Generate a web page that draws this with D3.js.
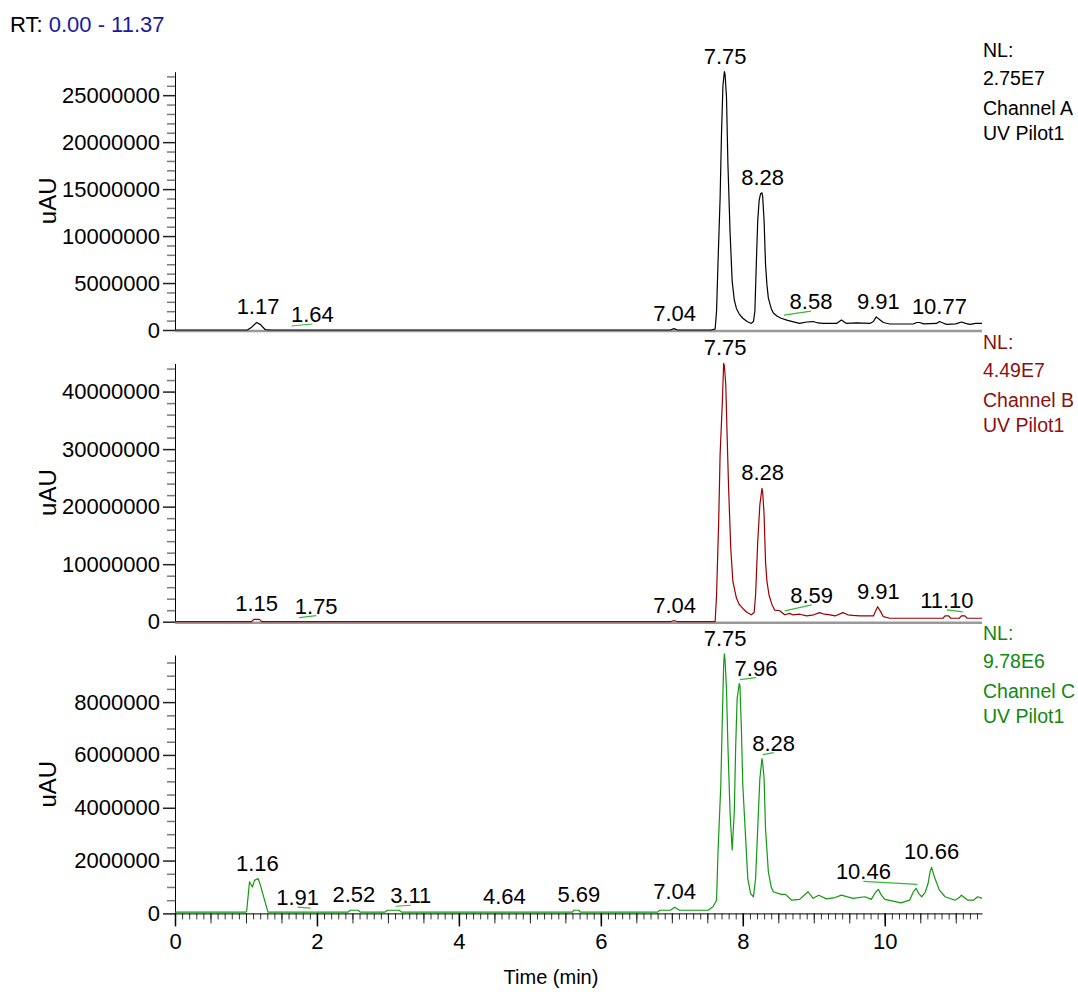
<!DOCTYPE html>
<html>
<head>
<meta charset="utf-8">
<script src="https://cdn.jsdelivr.net/npm/d3@7"></script>
<style>
  body { margin: 0; background: #fff; }
  svg text { font-family: "Liberation Sans", Arial, sans-serif; }
</style>
</head>
<body>
<svg id="chart" width="1078" height="992"></svg>
<script>
// --- Data (intensities in millions of uAU, time in min) ---
const timeRange = [0, 11.37];
const channelNames = ["Channel A", "Channel B", "Channel C"];
const normLevels = [27.5, 44.9, 9.78];
const normLabels = ["2.75E7", "4.49E7", "9.78E6"];

const yMajorA = [0, 5, 10, 15, 20, 25];
const yMajorB = [0, 10, 20, 30, 40];
const yMajorC = [0, 2, 4, 6, 8];
const yMinorStep = [1, 2, 0.5];
const xMajor = [0, 2, 4, 6, 8, 10];

const traceA = [
  [0, 0], [1.02, 0], [1.08, 0.3], [1.15, 0.8], [1.2, 0.6], [1.27, 0.05], [1.35, 0],
  [6.98, 0], [7.03, 0.15], [7.08, 0], [7.55, 0], [7.61, 0.1], [7.63, 2], [7.65, 7],
  [7.68, 14], [7.70, 21], [7.72, 26], [7.74, 27.5], [7.75, 27.2], [7.77, 24.8],
  [7.79, 17.7], [7.82, 10.5], [7.85, 5.2], [7.88, 3.2], [7.91, 2.3], [7.95, 1.7],
  [8.00, 1.25], [8.06, 0.9], [8.12, 0.7], [8.15, 0.9], [8.17, 2], [8.19, 7],
  [8.21, 11.6], [8.23, 13.8], [8.25, 14.5], [8.27, 14.6], [8.28, 14.2], [8.30, 11.6],
  [8.32, 7], [8.34, 4.8], [8.36, 3.4], [8.40, 2.3], [8.43, 1.8], [8.48, 1.5],
  [8.54, 1.25], [8.62, 1.05], [8.70, 0.9], [8.80, 0.7], [8.90, 0.85], [8.99, 0.9],
  [9.06, 0.75], [9.13, 0.7], [9.32, 0.7], [9.39, 1.07], [9.46, 0.7], [9.60, 0.75],
  [9.79, 0.7], [9.84, 0.9], [9.88, 1.4], [9.93, 1.1], [9.98, 0.8], [10.07, 0.64],
  [10.40, 0.64], [10.45, 0.8], [10.49, 0.8], [10.55, 0.65], [10.73, 0.7], [10.77, 0.9],
  [10.82, 0.75], [10.87, 0.6], [11.0, 0.65], [11.08, 0.85], [11.14, 0.7], [11.20, 0.6],
  [11.28, 0.7], [11.37, 0.7]
];

const traceB = [
  [0, 0], [1.08, 0], [1.11, 0.4], [1.19, 0.4], [1.22, 0], [6.98, 0], [7.03, 0.2],
  [7.08, 0], [7.61, 0], [7.63, 4.6], [7.66, 17.4], [7.68, 29], [7.71, 37.7],
  [7.73, 44.9], [7.74, 44.5], [7.76, 41.2], [7.78, 31.9], [7.80, 23.2], [7.83, 12.8],
  [7.86, 7], [7.91, 4.1], [7.95, 3.0], [8.00, 2.3], [8.06, 1.6], [8.12, 1.2],
  [8.16, 1.6], [8.18, 4.6], [8.21, 13.9], [8.24, 20.3], [8.27, 23.2], [8.28, 22.5],
  [8.30, 18.6], [8.32, 10.4], [8.34, 7.0], [8.37, 4.6], [8.41, 3.0], [8.45, 2.0],
  [8.52, 1.9], [8.59, 1.2], [8.66, 1.45], [8.70, 1.2], [8.80, 1.3], [8.90, 1.0],
  [9.0, 1.2], [9.08, 1.57], [9.15, 1.3], [9.23, 1.2], [9.30, 1.0], [9.41, 1.57],
  [9.48, 1.2], [9.55, 1.1], [9.65, 1.0], [9.84, 1.0], [9.87, 1.8], [9.90, 2.6],
  [9.94, 1.8], [9.98, 0.87], [10.07, 0.6], [10.82, 0.6], [10.85, 1.0], [10.90, 1.0],
  [10.93, 0.6], [11.05, 0.6], [11.08, 1.0], [11.13, 1.0], [11.16, 0.6], [11.37, 0.6]
];

const traceC = [
  [0, 0.05], [1.0, 0.05], [1.01, 0.1], [1.05, 1.2], [1.09, 1.0], [1.12, 1.25],
  [1.17, 1.32], [1.20, 1.1], [1.31, 0.05], [2.44, 0.05], [2.47, 0.12], [2.58, 0.12],
  [2.61, 0.05], [2.96, 0.05], [2.99, 0.12], [3.16, 0.12], [3.19, 0.05], [5.60, 0.05],
  [5.62, 0.12], [5.69, 0.12], [5.71, 0.05], [6.80, 0.05], [6.83, 0.12], [6.98, 0.12],
  [7.04, 0.23], [7.11, 0.12], [7.51, 0.12], [7.58, 0.25], [7.63, 0.5], [7.65, 2.3],
  [7.69, 4.85], [7.71, 7.24], [7.73, 9.4], [7.74, 9.83], [7.75, 9.6], [7.77, 8.5],
  [7.79, 6.36], [7.82, 3.84], [7.85, 2.4], [7.88, 3.84], [7.90, 6.36], [7.92, 8.13],
  [7.95, 8.7], [7.96, 8.6], [7.98, 7.0], [8.00, 4.85], [8.04, 2.84], [8.07, 1.32],
  [8.11, 0.75], [8.15, 0.63], [8.18, 1.32], [8.21, 3.2], [8.24, 5.1], [8.27, 5.86],
  [8.28, 5.7], [8.30, 5.1], [8.32, 3.2], [8.36, 1.57], [8.40, 1.0], [8.43, 0.82],
  [8.54, 0.72], [8.60, 0.72], [8.69, 0.5], [8.80, 0.53], [8.92, 0.82], [8.99, 0.57],
  [9.07, 0.69], [9.18, 0.55], [9.30, 0.6], [9.39, 0.69], [9.55, 0.57], [9.72, 0.63],
  [9.81, 0.53], [9.87, 0.8], [9.91, 0.91], [9.95, 0.7], [10.00, 0.53], [10.23, 0.4],
  [10.35, 0.5], [10.40, 0.8], [10.44, 0.95], [10.48, 0.75], [10.52, 0.63], [10.57, 0.8],
  [10.61, 1.13], [10.64, 1.6], [10.66, 1.74], [10.70, 1.38], [10.77, 0.88],
  [10.85, 0.63], [10.99, 0.5], [11.05, 0.6], [11.08, 0.69], [11.12, 0.6], [11.17, 0.5],
  [11.25, 0.5], [11.31, 0.63], [11.37, 0.57]
];

const peaksA = [1.17, 1.64, 7.04, 7.75, 8.28, 8.58, 9.91, 10.77];
const peaksB = [1.15, 1.75, 7.04, 7.75, 8.28, 8.59, 9.91, 11.10];
const peaksC = [1.16, 1.91, 2.52, 3.11, 4.64, 5.69, 7.04, 7.75, 7.96, 8.28, 10.46, 10.66];

// --- Layout ---
const layout = {
  left: 175, right: 982,
  firstZero: 330, panelStep: 291.7, axisHeight: 258.3,
  tickLabelX: 160, titleX: 56, sideX: 983
};
// label shifts (px) for labels drawn with a leader line
const labelShift = {
  "0:1.64": [21, 0], "0:8.58": [27, -2],
  "1:1.75": [17, 0], "1:8.59": [27, -4], "1:11.10": [-16, 0],
  "2:1.91": [-13, 1], "2:3.11": [15, 1], "2:7.96": [16, 0],
  "2:8.28": [11, 0], "2:10.46": [-54, -1]
};
const styles = {
  trace: ["#000000", "#990000", "#119911"],
  side: ["#000000", "#8b1010", "#128812"],
  leader: "#38b838",
  tickFont: "22px", peakFont: "22px", sideFont: "19.5px", titleFont: "24px"
};

const panels = [
  { trace: traceA, peaks: peaksA, major: yMajorA },
  { trace: traceB, peaks: peaksB, major: yMajorB },
  { trace: traceC, peaks: peaksC, major: yMajorC }
];

const svg = d3.select("#chart");
const x = d3.scaleLinear().domain(timeRange).range([layout.left, layout.right]);
const fmtTick = d => d3.format("d")(Math.round(d * 1e6));
const bisect = d3.bisector(d => d[0]).left;

// trace height at a retention time (used only to place the peak labels)
function heightAt(trace, t) {
  const j = Math.max(1, Math.min(trace.length - 1, bisect(trace, t)));
  const a = trace[j - 1], b = trace[j];
  const v = a[1] + (b[1] - a[1]) * (t - a[0]) / (b[0] - a[0]);
  const near = trace.filter(d => Math.abs(d[0] - t) <= 0.03).map(d => d[1]);
  return d3.max([v, ...near]);
}

// --- Header ---
const header = svg.append("text").attr("x", 10).attr("y", 32).style("font-size", "22px");
header.append("tspan").attr("fill", "#000").text("RT: ");
header.append("tspan").attr("fill", "#1a1aa0").text("0.00 - 11.37");

panels.forEach((p, i) => {
  const zero = layout.firstZero + i * layout.panelStep;
  const nl = normLevels[i];
  const y = d3.scaleLinear().domain([0, nl]).range([zero, zero - layout.axisHeight]);
  const g = svg.append("g");

  // minor y ticks
  const minor = d3.range(0, nl + 1e-9, yMinorStep[i]).filter(v => !p.major.includes(v));
  g.append("g")
    .attr("transform", `translate(${layout.left},0)`)
    .call(d3.axisLeft(y).tickValues(minor).tickSize(8).tickFormat(""))
    .call(a => a.select(".domain").remove())
    .call(a => a.selectAll("line").attr("stroke", "#7a7a7a").attr("stroke-width", 1.5));

  // major y ticks + axis line
  g.append("g")
    .attr("transform", `translate(${layout.left},0)`)
    .call(d3.axisLeft(y).tickValues(p.major).tickSize(12).tickSizeOuter(0).tickFormat(fmtTick))
    .call(a => a.select(".domain").attr("stroke", "#000"))
    .call(a => a.selectAll("line").attr("stroke", "#222").attr("stroke-width", 1.5))
    .call(a => a.selectAll("text")
      .attr("x", layout.tickLabelX - layout.left)
      .style("font-size", styles.tickFont)
      .style("font-family", '"Liberation Sans", Arial, sans-serif')
      .attr("fill", "#000"));

  // y title
  g.append("text")
    .attr("transform", `translate(${layout.titleX},${zero - layout.axisHeight / 2}) rotate(-90)`)
    .attr("text-anchor", "middle")
    .style("font-size", styles.titleFont)
    .text("uAU");

  // baseline (x axis of upper panels)
  if (i < 2) {
    g.append("line")
      .attr("x1", layout.left).attr("x2", layout.right)
      .attr("y1", zero + 1).attr("y2", zero + 1)
      .attr("stroke", "#999").attr("stroke-width", 2.5);
  }

  // trace
  const line = d3.line().x(d => x(d[0])).y(d => y(d[1]));
  g.append("path")
    .datum(p.trace)
    .attr("d", line)
    .attr("fill", "none")
    .attr("stroke", styles.trace[i])
    .attr("stroke-width", 1.2)
    .attr("stroke-linejoin", "round");

  // peak labels
  p.peaks.forEach(rt => {
    const peakY = y(heightAt(p.trace, rt));
    const shift = labelShift[`${i}:${rt.toFixed(2)}`] || [0, 0];
    const lx = x(rt) + shift[0];
    const ly = peakY - 8 + shift[1];
    if (shift[0] !== 0) {
      g.append("line")
        .attr("x1", x(rt)).attr("y1", peakY - 4)
        .attr("x2", lx).attr("y2", ly + 2)
        .attr("stroke", styles.leader).attr("stroke-width", 1.2);
    }
    g.append("text")
      .attr("x", lx).attr("y", ly)
      .attr("text-anchor", "middle")
      .style("font-size", styles.peakFont)
      .text(rt.toFixed(2));
  });

  // side notes
  const notes = ["NL:", normLabels[i], channelNames[i], "UV Pilot1"];
  const offs = [-273, -245, -215, -190];
  notes.forEach((t, k) => {
    g.append("text")
      .attr("x", layout.sideX).attr("y", zero + offs[k])
      .attr("fill", styles.side[i])
      .style("font-size", styles.sideFont)
      .text(t);
  });

  // time axis on the bottom panel
  if (i === 2) {
    const minorX = d3.range(0, timeRange[1] + 1e-9, 0.1).map(v => +v.toFixed(1));
    const halfX = minorX.filter(v => Math.abs(v * 2 - Math.round(v * 2)) < 1e-6);
    g.append("g")
      .attr("transform", `translate(0,${zero})`)
      .call(d3.axisBottom(x).tickValues(minorX).tickSize(6).tickFormat("").tickSizeOuter(0))
      .call(a => a.select(".domain").remove())
      .call(a => a.selectAll("line").attr("stroke", "#333"));
    g.append("g")
      .attr("transform", `translate(0,${zero})`)
      .call(d3.axisBottom(x).tickValues(halfX).tickSize(10).tickFormat("").tickSizeOuter(0))
      .call(a => a.select(".domain").remove())
      .call(a => a.selectAll("line").attr("stroke", "#222"));
    g.append("g")
      .attr("transform", `translate(0,${zero})`)
      .call(d3.axisBottom(x).tickValues(xMajor).tickSize(13).tickSizeOuter(0).tickFormat(d3.format("d")))
      .call(a => a.select(".domain").attr("stroke", "#000"))
      .call(a => a.selectAll("line").attr("stroke", "#000").attr("stroke-width", 1.5))
      .call(a => a.selectAll("text")
        .attr("y", 20)
        .style("font-size", styles.tickFont)
        .style("font-family", '"Liberation Sans", Arial, sans-serif')
        .attr("fill", "#000"));
    g.append("text")
      .attr("x", 551).attr("y", zero + 71)
      .attr("text-anchor", "middle")
      .style("font-size", "20px")
      .text("Time (min)");
  }
});
</script>
</body>
</html>
